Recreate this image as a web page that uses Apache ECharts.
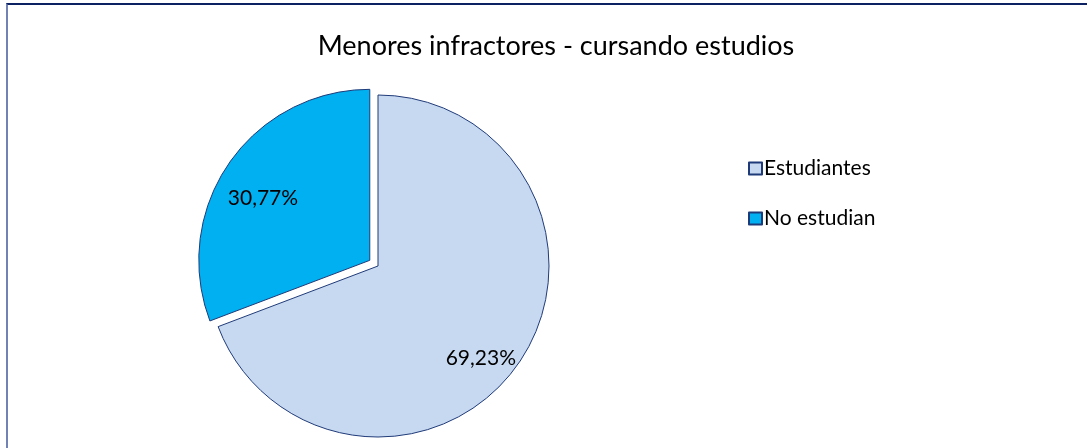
<!DOCTYPE html>
<html>
<head>
<meta charset="utf-8">
<script src="https://cdn.jsdelivr.net/npm/echarts@6/dist/echarts.min.js"></script>
<style>
  html, body { margin: 0; padding: 0; background: #fff; }
  #frame {
    position: absolute; left: 6px; top: 3px; width: 1200px; height: 600px;
    border-top: 2px solid #0b2161; border-left: 2px solid #7382b4;
  }
  #main { position: absolute; left: 0; top: 0; width: 1087px; height: 448px; }
</style>
</head>
<body>
<div id="frame"></div>
<div id="main"></div>
<script>
const categories = ['Estudiantes', 'No estudian'];
const values = [69.23, 30.77];
const colors = ['#c6d9f1', '#00b0f0'];

const chart = echarts.init(document.getElementById('main'));

// label nudges so they land where the original put them
const labelOffsets = [[30, 42], [-34, -12]];

const option = {
  animation: false,
  title: {
    text: 'Menores infractores - cursando estudios',
    left: 551, top: 28, textAlign: 'center',
    textStyle: { fontFamily: 'Lato', fontSize: 27, fontWeight: 'normal', color: '#000' }
  },
  legend: {
    orient: 'vertical',
    left: 743, top: 153,
    itemWidth: 13, itemHeight: 12, itemGap: 29,
    icon: 'rect',
    textStyle: { fontFamily: 'Lato', fontSize: 21, color: '#000', padding: [0, 0, 0, -3] },
    data: categories
  },
  series: [{
    type: 'pie',
    center: [378, 266],
    radius: 171,
    startAngle: 90,
    clockwise: true,
    selectedMode: 'multiple',
    selectedOffset: 10,
    label: {
      show: true, position: 'inside',
      fontFamily: 'Lato', fontSize: 21, color: '#000',
      formatter: p => p.value.toFixed(2).replace('.', ',') + '%'
    },
    labelLayout: p => ({ dx: labelOffsets[p.dataIndex][0], dy: labelOffsets[p.dataIndex][1] }),
    labelLine: { show: false },
    itemStyle: { borderColor: '#1f3a78', borderWidth: 1 },
    emphasis: { disabled: true },
    data: categories.map((c, i) => ({
      name: c,
      value: values[i],
      selected: i === 1,
      itemStyle: { color: colors[i] }
    }))
  }]
};

option && chart.setOption(option);
</script>
</body>
</html>
